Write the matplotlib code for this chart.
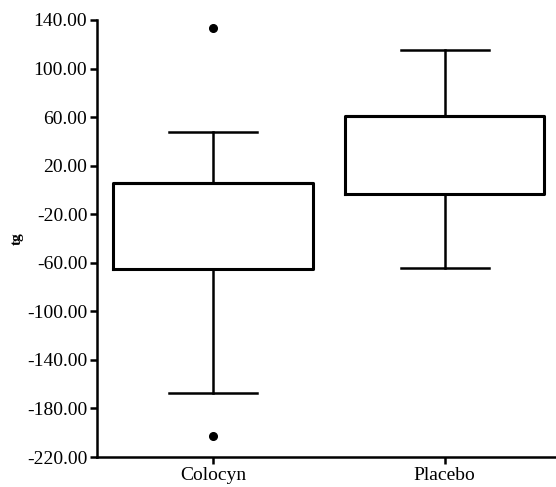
import matplotlib.pyplot as plt

# Dados
grupos = ["Colocyn", "Placebo"]
q1 = [-65.0, -3.5]
q3 = [5.5, 61.0]
mediana = [5.5, 61.0]
bigode_inf = [-167.5, -64.5]
bigode_sup = [47.5, 115.5]
outliers = [[133.5, -202.5], []]

yticks = [140, 100, 60, 20, -20, -60, -100, -140, -180, -220]

plt.rcParams["font.family"] = ["Liberation Serif", "DejaVu Serif"]

fig = plt.figure(figsize=(5.56, 4.87), dpi=100)
ax = fig.add_axes([0.1745, 0.0616, 0.8255, 0.8974])

stats = []
for i, g in enumerate(grupos):
    stats.append({
        "label": g, "q1": q1[i], "q3": q3[i], "med": mediana[i],
        "whislo": bigode_inf[i], "whishi": bigode_sup[i], "fliers": outliers[i],
    })

ax.bxp(stats, positions=[1, 2], widths=0.86, capwidths=0.38,
       boxprops=dict(color="black", linewidth=2.2),
       whiskerprops=dict(color="black", linewidth=1.8),
       capprops=dict(color="black", linewidth=1.8),
       medianprops=dict(color="black", linewidth=2.2),
       flierprops=dict(marker="o", markersize=5.5, markerfacecolor="black",
                       markeredgecolor="black"))

ax.set_xlim(0.5, 2.48)
ax.set_ylim(-220, 140)
ax.set_yticks(yticks)
ax.set_yticklabels([f"{v:.2f}" for v in yticks])
ax.set_xticks([1, 2])
ax.set_xticklabels(grupos)
ax.tick_params(labelsize=14, width=1.8, length=5, pad=2)
ax.set_ylabel("tg", fontsize=11, fontweight="bold", labelpad=2)

for s in ["top", "right"]:
    ax.spines[s].set_visible(False)
for s in ["left", "bottom"]:
    ax.spines[s].set_linewidth(1.8)

fig.savefig("out.png", dpi=100)
